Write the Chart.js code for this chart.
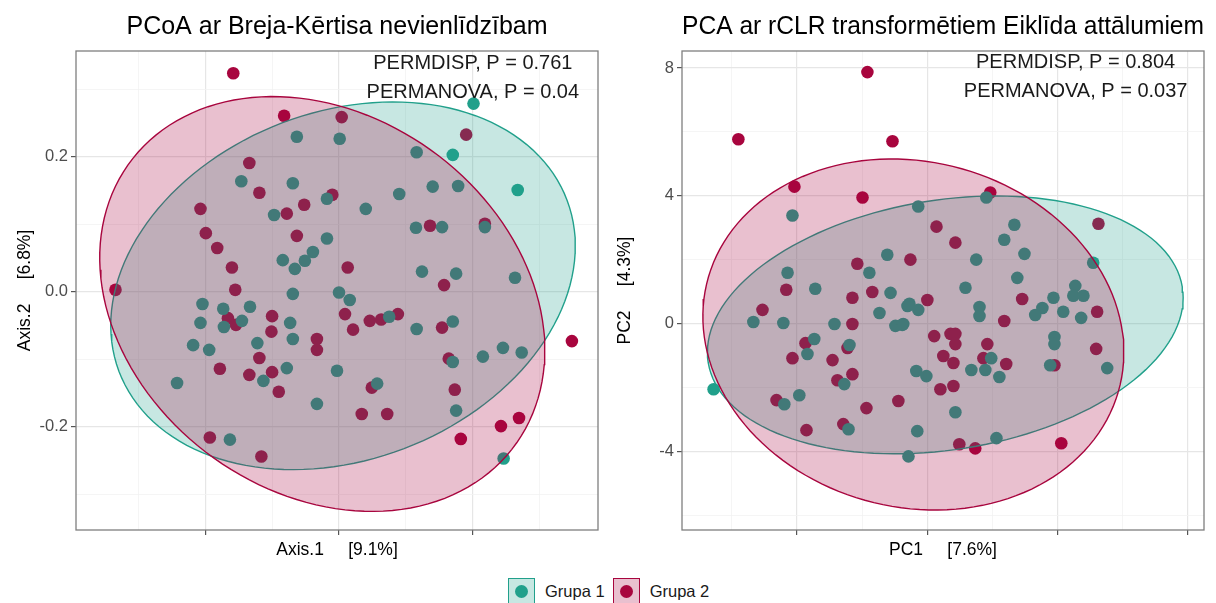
<!DOCTYPE html>
<html>
<head>
<meta charset="utf-8">
<script src="https://cdn.jsdelivr.net/npm/chart.js@4"></script>
<style>
  body { margin: 0; background: #fff; font-family: "Liberation Sans", Arial, sans-serif; }
  #wrap { position: relative; width: 1216px; height: 603px; overflow: hidden; background: #fff; }
  .panel { position: absolute; top: 0; }
  #legend { position: absolute; top: 578px; left: 508px; display: flex; align-items: center; height: 26px;
            font-size: 16.5px; color: #1a1a1a; }
  .key { position: relative; box-sizing: border-box; width: 27px; height: 26px; border: 1.5px solid; margin-right: 10px; }
  .key i { position: absolute; left: 50%; top: 50%; width: 13px; height: 13px; margin: -6.5px 0 0 -6.5px; border-radius: 50%; }
  .lab { margin-right: 8px; }
</style>
</head>
<body>
<div id="wrap">
  <canvas id="pcoa" class="panel" width="608" height="570" style="left:0"></canvas>
  <canvas id="pca" class="panel" width="608" height="570" style="left:608px"></canvas>
  <div id="legend"></div>
</div>
<script>
// group names and colours
const groupNames = ["Grupa 1", "Grupa 2"];
const groupColors = ["#21a08b", "#a8053e"];
const groupFills = ["rgba(33,160,139,0.25)", "rgba(168,5,62,0.25)"];

// PCoA, Bray-Curtis: [Axis.1, Axis.2]
const pcoaGrupa1 = [
  [0.201, 0.279], [0.170, 0.203], [0.267, 0.151], [0.246, -0.247], [-0.063, 0.230],
  [0.001, 0.227], [-0.146, 0.164], [-0.069, 0.161], [-0.097, 0.114], [0.116, 0.207],
  [0.140, 0.156], [0.178, 0.157], [0.090, 0.145], [-0.018, 0.138], [0.040, 0.123],
  [0.115, 0.095], [0.154, 0.096], [0.218, 0.096], [-0.018, 0.079], [-0.039, 0.059],
  [-0.051, 0.046], [-0.084, 0.047], [-0.066, 0.034], [0.124, 0.030], [0.175, 0.027],
  [0.263, 0.021], [0.000, -0.001], [0.016, -0.012], [-0.069, -0.003], [0.075, -0.037],
  [0.170, -0.044], [0.116, -0.055], [0.170, -0.104], [0.215, -0.096], [0.245, -0.083],
  [0.273, -0.090], [-0.003, -0.117], [0.057, -0.136], [-0.033, -0.166], [0.175, -0.176],
  [-0.204, -0.018], [-0.173, -0.025], [-0.133, -0.022], [-0.207, -0.046], [-0.172, -0.052],
  [-0.145, -0.043], [-0.073, -0.046], [-0.069, -0.070], [-0.122, -0.076], [-0.218, -0.079],
  [-0.194, -0.086], [-0.078, -0.113], [-0.113, -0.132], [-0.242, -0.135], [-0.163, -0.219]
];
const pcoaGrupa2 = [
  [-0.158, 0.324], [-0.082, 0.261], [0.004, 0.259], [0.190, 0.233], [-0.134, 0.191],
  [-0.119, 0.147], [-0.207, 0.123], [-0.052, 0.129], [-0.078, 0.116], [-0.010, 0.144],
  [-0.199, 0.087], [-0.063, 0.083], [-0.182, 0.065], [-0.160, 0.036], [-0.155, 0.003],
  [0.136, 0.098], [0.218, 0.101], [0.013, 0.036], [0.157, 0.010], [-0.334, 0.003],
  [-0.166, -0.039], [-0.154, -0.049], [-0.100, -0.036], [-0.101, -0.059], [-0.033, -0.070],
  [-0.033, -0.086], [-0.119, -0.098], [-0.178, -0.114], [-0.134, -0.123], [-0.100, -0.119],
  [-0.090, -0.148], [-0.193, -0.216], [-0.116, -0.244], [0.009, -0.033], [0.021, -0.056],
  [0.046, -0.043], [0.063, -0.041], [0.088, -0.033], [0.154, -0.053], [0.164, -0.099],
  [0.049, -0.142], [0.034, -0.181], [0.072, -0.181], [0.173, -0.145], [0.182, -0.218],
  [0.242, -0.199], [0.269, -0.187], [0.348, -0.073]
];

// PCA on rCLR: [PC1, PC2]
const pcaGrupa1 = [
  [-6.56, -2.04], [-4.14, 3.39], [-1.23, 2.16], [-1.78, 1.60], [-4.29, 1.60],
  [-3.44, 1.10], [-1.13, 0.97], [-1.47, 0.34], [-0.61, 0.56], [-5.34, 0.06],
  [-4.42, 0.03], [-2.85, 0.00], [-0.98, -0.06], [-0.77, -0.03], [-3.47, -0.47],
  [-2.39, -0.66], [-3.68, -0.94], [-2.55, -1.88], [-3.93, -2.23], [-4.39, -2.51],
  [-2.42, -3.29], [-0.58, -4.14], [1.81, 3.95], [-0.28, 3.67], [2.67, 3.10],
  [2.36, 2.63], [2.98, 2.19], [1.50, 2.01], [5.09, 1.91], [2.76, 1.44],
  [1.17, 1.13], [1.60, 0.53], [-0.55, 0.63], [-0.28, 0.44], [3.87, 0.82],
  [3.53, 0.50], [3.31, 0.28], [4.17, 0.38], [4.54, 1.19], [4.48, 0.88],
  [4.79, 0.88], [4.72, 0.19], [-0.74, 0.00], [1.60, 0.25], [3.90, -0.41],
  [3.90, -0.63], [1.96, -1.07], [3.77, -1.29], [5.52, -1.38], [-0.34, -1.47],
  [-0.03, -1.63], [1.35, -1.44], [1.78, -1.44], [2.21, -1.66], [0.86, -2.76],
  [-0.31, -3.35], [2.12, -3.57]
];
const pcaGrupa2 = [
  [-5.80, 5.77], [-1.84, 7.87], [-1.07, 5.71], [-4.08, 4.29], [-1.99, 3.95],
  [-2.15, 1.88], [-4.33, 1.07], [-1.69, 1.00], [-2.30, 0.82], [-5.06, 0.44],
  [-0.52, 2.01], [-2.30, 0.00], [-3.74, -0.60], [-2.45, -0.75], [-4.14, -1.07],
  [-2.91, -1.13], [-2.30, -1.57], [-2.76, -1.76], [-4.63, -2.38], [-0.89, -2.41],
  [-1.87, -2.63], [-2.58, -3.13], [-3.71, -3.32], [1.93, 4.11], [0.28, 3.04],
  [0.86, 2.54], [5.25, 3.13], [0.00, 0.75], [2.91, 0.78], [5.21, 0.38],
  [2.36, 0.09], [0.21, -0.38], [0.71, -0.31], [0.86, -0.31], [0.86, -0.63],
  [1.84, -0.63], [5.18, -0.78], [0.49, -1.00], [0.80, -1.22], [1.72, -1.07],
  [2.42, -1.25], [3.90, -1.29], [0.40, -2.04], [0.80, -1.94], [0.98, -3.76],
  [1.47, -3.89], [4.11, -3.73]
];

// 95% ellipses per group: [centre x, centre y, semi-axis a, semi-axis b, rotation deg]
const pcoaEllipses = [[0.006, 0.009, 0.358, 0.258, 20.7], [-0.025, -0.018, 0.356, 0.280, -35.3]];
const pcaEllipses = [[0.55, -0.03, 7.37, 3.90, 9.3], [-0.43, -0.33, 6.54, 5.39, -16]];

// test statistics
const pcoaStats = ["PERMDISP, P = 0.761", "PERMANOVA, P = 0.04"];
const pcaStats = ["PERMDISP, P = 0.804", "PERMANOVA, P = 0.037"];

const FONT = "'Liberation Sans', Arial, sans-serif";

function ellipsePoints(e) {
  const pts = [];
  const th = e[4] * Math.PI / 180;
  for (let i = 0; i <= 144; i++) {
    const t = i / 144 * 2 * Math.PI;
    pts.push({
      x: e[0] + e[2] * Math.cos(t) * Math.cos(th) - e[3] * Math.sin(t) * Math.sin(th),
      y: e[1] + e[2] * Math.cos(t) * Math.sin(th) + e[3] * Math.sin(t) * Math.cos(th)
    });
  }
  return pts;
}

// text annotations + panel border
const panelExtras = {
  id: "panelExtras",
  afterDatasetsDraw(chart, args, opts) {
    const { ctx, chartArea: a, scales } = chart;
    ctx.save();
    ctx.strokeStyle = "#7f7f7f";
    ctx.lineWidth = 1.3;
    ctx.strokeRect(a.left, a.top, a.right - a.left, a.bottom - a.top);
    ctx.font = "20px " + FONT;
    ctx.fillStyle = "#1a1a1a";
    ctx.textAlign = "center";
    ctx.textBaseline = "middle";
    opts.lines.forEach((t, i) => {
      ctx.fillText(t, scales.x.getPixelForValue(opts.at[i][0]), scales.y.getPixelForValue(opts.at[i][1]));
    });
    ctx.restore();
  }
};

function makePanel(id, cfg) {
  const isMajor = v => Math.abs(Math.round(v / cfg.minorStep)) % 2 === 0;
  const grid = {
    color: c => (c.tick && isMajor(c.tick.value)) ? "#e6e6e6" : "#f2f2f2",
    lineWidth: c => (c.tick && isMajor(c.tick.value)) ? 1.2 : 0.8,
    tickColor: c => (c.tick && isMajor(c.tick.value)) ? "#555" : "rgba(0,0,0,0)",
    tickWidth: 1.2,
    tickLength: 5,
    drawTicks: true
  };
  const toXY = arr => arr.map(p => ({ x: p[0], y: p[1] }));
  const datasets = [
    { type: "line", data: ellipsePoints(cfg.ellipses[1]), borderColor: groupColors[1], backgroundColor: groupFills[1],
      fill: "shape", borderWidth: 1.4, pointRadius: 0, tension: 0, order: 0 },
    { type: "line", data: ellipsePoints(cfg.ellipses[0]), borderColor: groupColors[0], backgroundColor: groupFills[0],
      fill: "shape", borderWidth: 1.4, pointRadius: 0, tension: 0, order: 1 },
    { type: "scatter", label: groupNames[0], data: toXY(cfg.g1), backgroundColor: groupColors[0],
      borderWidth: 0, pointRadius: 6.3, order: 2 },
    { type: "scatter", label: groupNames[1], data: toXY(cfg.g2), backgroundColor: groupColors[1],
      borderWidth: 0, pointRadius: 6.3, order: 3 }
  ];
  return new Chart(document.getElementById(id), {
    type: "scatter",
    data: { datasets },
    plugins: [panelExtras],
    options: {
      responsive: false,
      animation: false,
      layout: { padding: { left: 0, right: cfg.padRight, top: 0, bottom: 0 } },
      plugins: {
        legend: { display: false },
        tooltip: { enabled: false },
        title: {
          display: true, text: cfg.title, color: "#000", fullSize: false,
          font: { family: FONT, size: 25, weight: "normal" },
          padding: { top: 12, bottom: 9 }
        },
        panelExtras: { lines: cfg.stats, at: cfg.statsAt }
      },
      scales: {
        x: {
          type: "linear", min: cfg.xMin, max: cfg.xMax,
          grid, border: { display: false },
          ticks: { stepSize: cfg.minorStep, includeBounds: false, callback: () => "" },
          title: { display: true, text: cfg.xTitle, color: "#000",
                   font: { family: FONT, size: 17.5 }, padding: { top: 0, bottom: 9.5 } },
          afterFit: s => { s.height = 40; }
        },
        y: {
          type: "linear", min: cfg.yMin, max: cfg.yMax,
          grid, border: { display: false },
          ticks: {
            stepSize: cfg.minorStep, includeBounds: false, padding: 3, color: "#4d4d4d",
            font: { family: FONT, size: 16.5 },
            callback: v => isMajor(v) ? cfg.yLabel(v) : ""
          },
          title: { display: true, text: cfg.yTitle, color: "#000",
                   font: { family: FONT, size: 17.5 }, padding: { top: cfg.yTitlePad, bottom: 0 } },
          afterFit: s => { s.width = cfg.yWidth; }
        }
      }
    }
  });
}

makePanel("pcoa", {
  title: "PCoA ar Breja-Kērtisa nevienlīdzībam",
  xTitle: "Axis.1     [9.1%]", yTitle: "Axis.2     [6.8%]",
  g1: pcoaGrupa1, g2: pcoaGrupa2, ellipses: pcoaEllipses,
  stats: pcoaStats, statsAt: [[0.2, 0.339], [0.2, 0.296]],
  xMin: -0.393, xMax: 0.387, yMin: -0.353, yMax: 0.357, minorStep: 0.1,
  yLabel: v => (Math.round(v * 10) / 10).toFixed(1),
  yWidth: 76, yTitlePad: 15, padRight: 10
});

makePanel("pca", {
  title: "PCA ar rCLR transformētiem Eiklīda attālumiem",
  xTitle: "PC1     [7.6%]", yTitle: "PC2     [4.3%]",
  g1: pcaGrupa1, g2: pcaGrupa2, ellipses: pcaEllipses,
  stats: pcaStats, statsAt: [[4.55, 8.18], [4.55, 7.27]],
  xMin: -7.53, xMax: 8.49, yMin: -6.44, yMax: 8.53, minorStep: 2,
  yLabel: v => String(Math.round(v)),
  yWidth: 74, yTitlePad: 7, padRight: 12
});

// shared legend
const legend = document.getElementById("legend");
groupNames.forEach((name, i) => {
  const key = document.createElement("span");
  key.className = "key";
  key.style.borderColor = groupColors[i];
  key.style.background = groupFills[i];
  const dot = document.createElement("i");
  dot.style.background = groupColors[i];
  key.appendChild(dot);
  const lab = document.createElement("span");
  lab.className = "lab";
  lab.textContent = name;
  legend.appendChild(key);
  legend.appendChild(lab);
});
</script>
</body>
</html>
